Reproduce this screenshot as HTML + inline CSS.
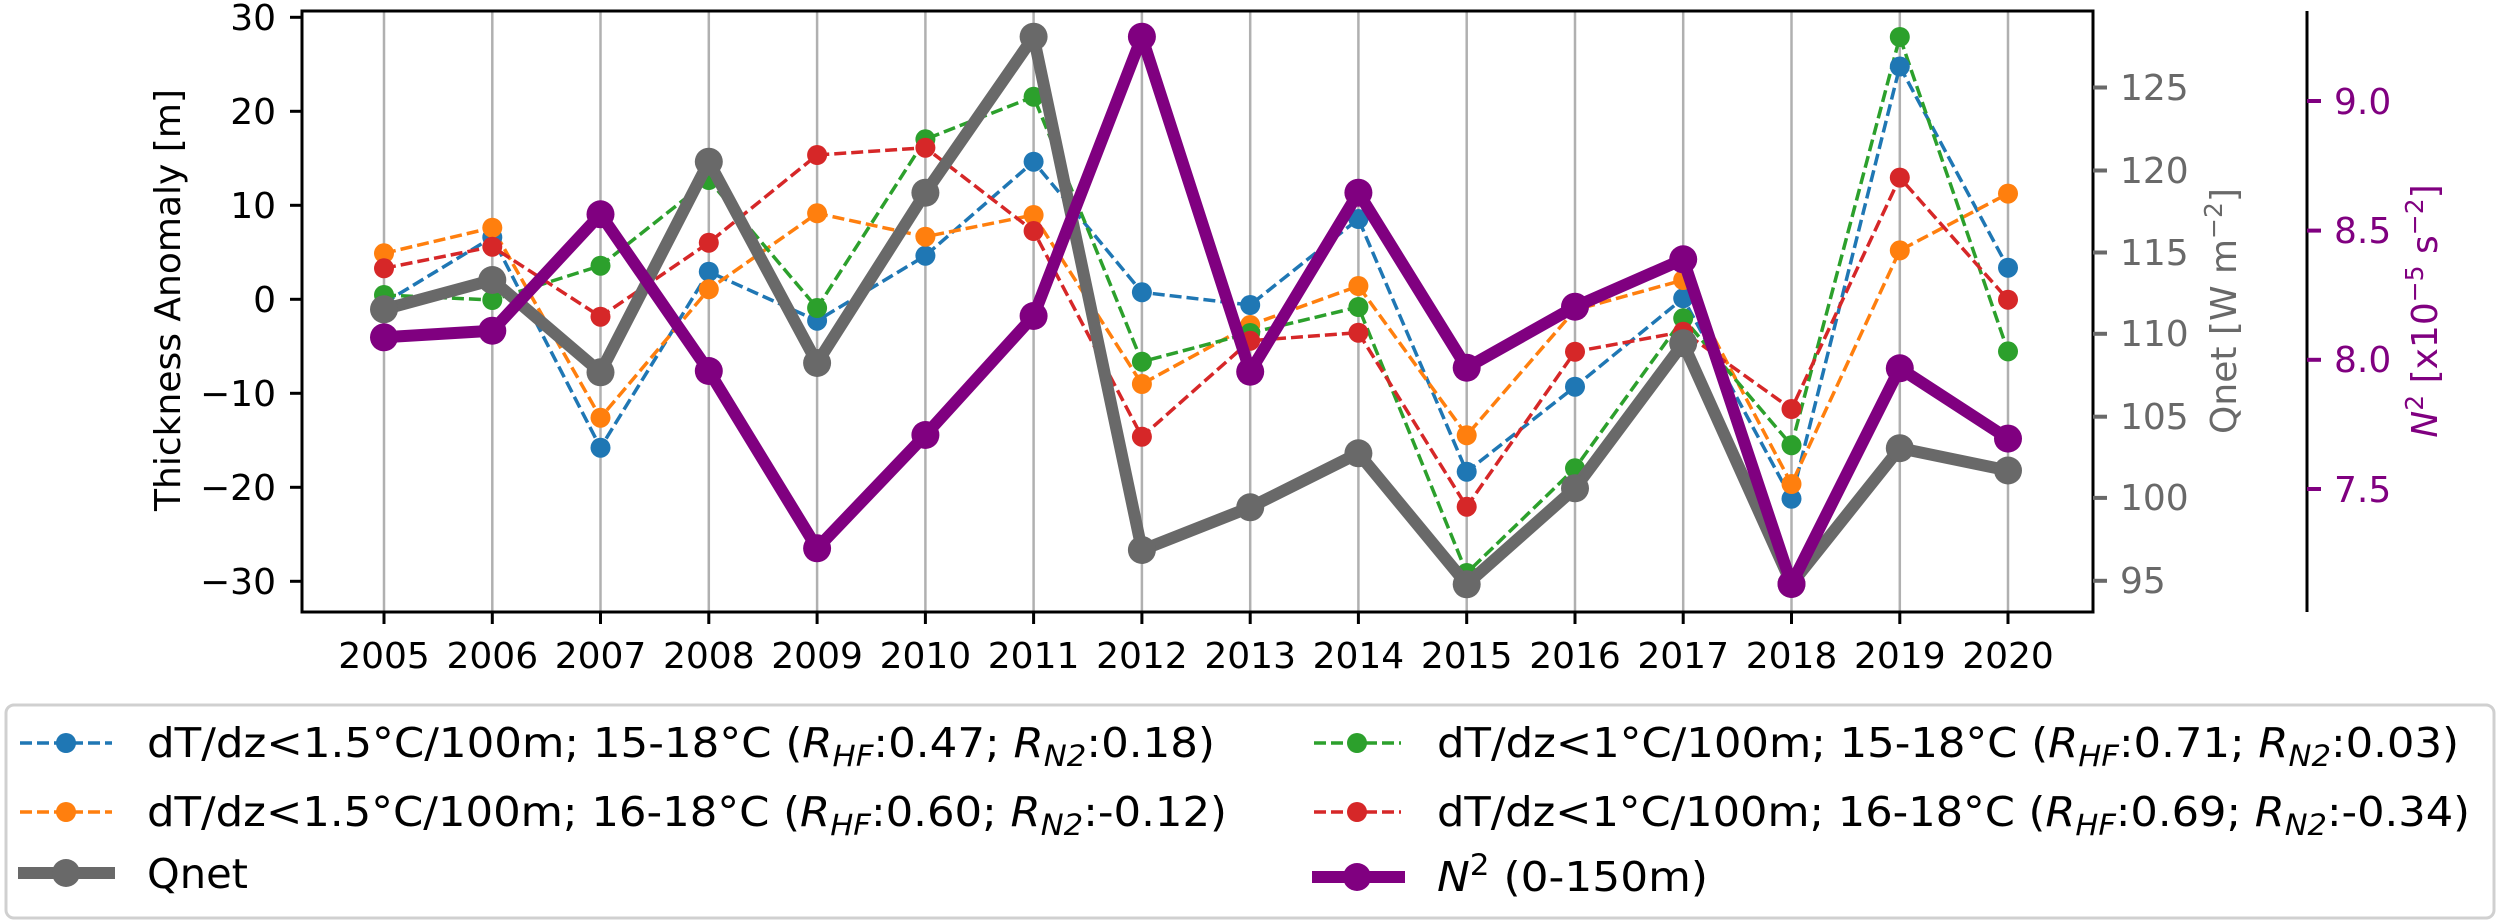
<!DOCTYPE html>
<html><head><meta charset="utf-8"><style>html,body{margin:0;padding:0;background:#fff}svg{display:block}</style></head>
<body>
<svg width="2500" height="924" viewBox="0 0 2500 924" xmlns="http://www.w3.org/2000/svg" font-family="DejaVu Sans, Liberation Sans, sans-serif">
<rect width="2500" height="924" fill="#fff"/>
<g stroke="#b0b0b0" stroke-width="2.5">
<line x1="384" y1="11" x2="384" y2="612"/><line x1="492.3" y1="11" x2="492.3" y2="612"/><line x1="600.5" y1="11" x2="600.5" y2="612"/><line x1="708.8" y1="11" x2="708.8" y2="612"/><line x1="817.1" y1="11" x2="817.1" y2="612"/><line x1="925.4" y1="11" x2="925.4" y2="612"/><line x1="1033.6" y1="11" x2="1033.6" y2="612"/><line x1="1141.9" y1="11" x2="1141.9" y2="612"/><line x1="1250.2" y1="11" x2="1250.2" y2="612"/><line x1="1358.4" y1="11" x2="1358.4" y2="612"/><line x1="1466.7" y1="11" x2="1466.7" y2="612"/><line x1="1575" y1="11" x2="1575" y2="612"/><line x1="1683.2" y1="11" x2="1683.2" y2="612"/><line x1="1791.5" y1="11" x2="1791.5" y2="612"/><line x1="1899.8" y1="11" x2="1899.8" y2="612"/><line x1="2008" y1="11" x2="2008" y2="612"/>
</g>
<g fill="none" stroke-width="3.5" stroke-dasharray="12,5">
<polyline stroke="#1f77b4" points="384,303 492.3,237.3 600.5,447.7 708.8,271.7 817.1,320.7 925.4,255.7 1033.6,161.7 1141.9,292.3 1250.2,305 1358.4,219 1466.7,471.7 1575,386.7 1683.2,298.3 1791.5,498.7 1899.8,66.5 2008,267.7"/>
<polyline stroke="#ff7f0e" points="384,253.3 492.3,227.7 600.5,417.7 708.8,289.3 817.1,213.3 925.4,236.7 1033.6,215 1141.9,384 1250.2,325 1358.4,286 1466.7,435.3 1575,310 1683.2,280 1791.5,484 1899.8,250.4 2008,193.6"/>
<polyline stroke="#2ca02c" points="384,295 492.3,300 600.5,265.7 708.8,180 817.1,308 925.4,139.3 1033.6,96.7 1141.9,361.7 1250.2,333 1358.4,307 1466.7,573 1575,468.3 1683.2,318.3 1791.5,445.3 1899.8,37 2008,351.4"/>
<polyline stroke="#d62728" points="384,268.3 492.3,246.7 600.5,316.7 708.8,242.7 817.1,155 925.4,147.7 1033.6,231 1141.9,436.7 1250.2,340.7 1358.4,332.7 1466.7,506.7 1575,351.7 1683.2,331.7 1791.5,409 1899.8,177.6 2008,299.7"/>
</g>
<g fill="#1f77b4"><circle cx="384" cy="303" r="10"/><circle cx="492.3" cy="237.3" r="10"/><circle cx="600.5" cy="447.7" r="10"/><circle cx="708.8" cy="271.7" r="10"/><circle cx="817.1" cy="320.7" r="10"/><circle cx="925.4" cy="255.7" r="10"/><circle cx="1033.6" cy="161.7" r="10"/><circle cx="1141.9" cy="292.3" r="10"/><circle cx="1250.2" cy="305" r="10"/><circle cx="1358.4" cy="219" r="10"/><circle cx="1466.7" cy="471.7" r="10"/><circle cx="1575" cy="386.7" r="10"/><circle cx="1683.2" cy="298.3" r="10"/><circle cx="1791.5" cy="498.7" r="10"/><circle cx="1899.8" cy="66.5" r="10"/><circle cx="2008" cy="267.7" r="10"/></g>
<g fill="#ff7f0e"><circle cx="384" cy="253.3" r="10"/><circle cx="492.3" cy="227.7" r="10"/><circle cx="600.5" cy="417.7" r="10"/><circle cx="708.8" cy="289.3" r="10"/><circle cx="817.1" cy="213.3" r="10"/><circle cx="925.4" cy="236.7" r="10"/><circle cx="1033.6" cy="215" r="10"/><circle cx="1141.9" cy="384" r="10"/><circle cx="1250.2" cy="325" r="10"/><circle cx="1358.4" cy="286" r="10"/><circle cx="1466.7" cy="435.3" r="10"/><circle cx="1575" cy="310" r="10"/><circle cx="1683.2" cy="280" r="10"/><circle cx="1791.5" cy="484" r="10"/><circle cx="1899.8" cy="250.4" r="10"/><circle cx="2008" cy="193.6" r="10"/></g>
<g fill="#2ca02c"><circle cx="384" cy="295" r="10"/><circle cx="492.3" cy="300" r="10"/><circle cx="600.5" cy="265.7" r="10"/><circle cx="708.8" cy="180" r="10"/><circle cx="817.1" cy="308" r="10"/><circle cx="925.4" cy="139.3" r="10"/><circle cx="1033.6" cy="96.7" r="10"/><circle cx="1141.9" cy="361.7" r="10"/><circle cx="1250.2" cy="333" r="10"/><circle cx="1358.4" cy="307" r="10"/><circle cx="1466.7" cy="573" r="10"/><circle cx="1575" cy="468.3" r="10"/><circle cx="1683.2" cy="318.3" r="10"/><circle cx="1791.5" cy="445.3" r="10"/><circle cx="1899.8" cy="37" r="10"/><circle cx="2008" cy="351.4" r="10"/></g>
<g fill="#d62728"><circle cx="384" cy="268.3" r="10"/><circle cx="492.3" cy="246.7" r="10"/><circle cx="600.5" cy="316.7" r="10"/><circle cx="708.8" cy="242.7" r="10"/><circle cx="817.1" cy="155" r="10"/><circle cx="925.4" cy="147.7" r="10"/><circle cx="1033.6" cy="231" r="10"/><circle cx="1141.9" cy="436.7" r="10"/><circle cx="1250.2" cy="340.7" r="10"/><circle cx="1358.4" cy="332.7" r="10"/><circle cx="1466.7" cy="506.7" r="10"/><circle cx="1575" cy="351.7" r="10"/><circle cx="1683.2" cy="331.7" r="10"/><circle cx="1791.5" cy="409" r="10"/><circle cx="1899.8" cy="177.6" r="10"/><circle cx="2008" cy="299.7" r="10"/></g>
<polyline fill="none" stroke="#696969" stroke-width="12" stroke-linejoin="round" points="384,309.3 492.3,280 600.5,372.3 708.8,161.7 817.1,363 925.4,192.7 1033.6,36.7 1141.9,550 1250.2,507.3 1358.4,453.3 1466.7,584.3 1575,488.3 1683.2,343.3 1791.5,584 1899.8,448.2 2008,470.5"/>
<g fill="#696969"><circle cx="384" cy="309.3" r="14"/><circle cx="492.3" cy="280" r="14"/><circle cx="600.5" cy="372.3" r="14"/><circle cx="708.8" cy="161.7" r="14"/><circle cx="817.1" cy="363" r="14"/><circle cx="925.4" cy="192.7" r="14"/><circle cx="1033.6" cy="36.7" r="14"/><circle cx="1141.9" cy="550" r="14"/><circle cx="1250.2" cy="507.3" r="14"/><circle cx="1358.4" cy="453.3" r="14"/><circle cx="1466.7" cy="584.3" r="14"/><circle cx="1575" cy="488.3" r="14"/><circle cx="1683.2" cy="343.3" r="14"/><circle cx="1791.5" cy="584" r="14"/><circle cx="1899.8" cy="448.2" r="14"/><circle cx="2008" cy="470.5" r="14"/></g>
<polyline fill="none" stroke="#800080" stroke-width="12" stroke-linejoin="round" points="384,337.3 492.3,330.7 600.5,214.3 708.8,371 817.1,548.3 925.4,435 1033.6,316 1141.9,36.7 1250.2,371.7 1358.4,192.7 1466.7,367.7 1575,306.7 1683.2,259.3 1791.5,584 1899.8,368.3 2008,438.6"/>
<g fill="#800080"><circle cx="384" cy="337.3" r="14"/><circle cx="492.3" cy="330.7" r="14"/><circle cx="600.5" cy="214.3" r="14"/><circle cx="708.8" cy="371" r="14"/><circle cx="817.1" cy="548.3" r="14"/><circle cx="925.4" cy="435" r="14"/><circle cx="1033.6" cy="316" r="14"/><circle cx="1141.9" cy="36.7" r="14"/><circle cx="1250.2" cy="371.7" r="14"/><circle cx="1358.4" cy="192.7" r="14"/><circle cx="1466.7" cy="367.7" r="14"/><circle cx="1575" cy="306.7" r="14"/><circle cx="1683.2" cy="259.3" r="14"/><circle cx="1791.5" cy="584" r="14"/><circle cx="1899.8" cy="368.3" r="14"/><circle cx="2008" cy="438.6" r="14"/></g>
<rect x="302" y="11" width="1791" height="601" fill="none" stroke="#000" stroke-width="3"/>
<line x1="2307" y1="11" x2="2307" y2="612" stroke="#000" stroke-width="3"/>
<g stroke="#000" stroke-width="3">
<line x1="290" y1="17.3" x2="302" y2="17.3"/><line x1="290" y1="111.3" x2="302" y2="111.3"/><line x1="290" y1="205.3" x2="302" y2="205.3"/><line x1="290" y1="299.3" x2="302" y2="299.3"/><line x1="290" y1="393.3" x2="302" y2="393.3"/><line x1="290" y1="487.3" x2="302" y2="487.3"/><line x1="290" y1="581.3" x2="302" y2="581.3"/>
<line x1="384" y1="612" x2="384" y2="624"/><line x1="492.3" y1="612" x2="492.3" y2="624"/><line x1="600.5" y1="612" x2="600.5" y2="624"/><line x1="708.8" y1="612" x2="708.8" y2="624"/><line x1="817.1" y1="612" x2="817.1" y2="624"/><line x1="925.4" y1="612" x2="925.4" y2="624"/><line x1="1033.6" y1="612" x2="1033.6" y2="624"/><line x1="1141.9" y1="612" x2="1141.9" y2="624"/><line x1="1250.2" y1="612" x2="1250.2" y2="624"/><line x1="1358.4" y1="612" x2="1358.4" y2="624"/><line x1="1466.7" y1="612" x2="1466.7" y2="624"/><line x1="1575" y1="612" x2="1575" y2="624"/><line x1="1683.2" y1="612" x2="1683.2" y2="624"/><line x1="1791.5" y1="612" x2="1791.5" y2="624"/><line x1="1899.8" y1="612" x2="1899.8" y2="624"/><line x1="2008" y1="612" x2="2008" y2="624"/>
</g>
<g stroke="#696969" stroke-width="4"><line x1="2093" y1="87.5" x2="2107" y2="87.5"/><line x1="2093" y1="170.5" x2="2107" y2="170.5"/><line x1="2093" y1="252.5" x2="2107" y2="252.5"/><line x1="2093" y1="333.8" x2="2107" y2="333.8"/><line x1="2093" y1="416.7" x2="2107" y2="416.7"/><line x1="2093" y1="497.9" x2="2107" y2="497.9"/><line x1="2093" y1="580.8" x2="2107" y2="580.8"/></g>
<g stroke="#800080" stroke-width="4"><line x1="2307" y1="101" x2="2321" y2="101"/><line x1="2307" y1="230.6" x2="2321" y2="230.6"/><line x1="2307" y1="359.8" x2="2321" y2="359.8"/><line x1="2307" y1="489" x2="2321" y2="489"/></g>
<g font-size="36" fill="#000" text-anchor="end">
<text x="276" y="30">30</text><text x="276" y="124">20</text><text x="276" y="218">10</text><text x="276" y="312">0</text><text x="276" y="406">−10</text><text x="276" y="500">−20</text><text x="276" y="594">−30</text>
</g>
<g font-size="36" fill="#000" text-anchor="middle">
<text x="384" y="668">2005</text><text x="492.3" y="668">2006</text><text x="600.5" y="668">2007</text><text x="708.8" y="668">2008</text><text x="817.1" y="668">2009</text><text x="925.4" y="668">2010</text><text x="1033.6" y="668">2011</text><text x="1141.9" y="668">2012</text><text x="1250.2" y="668">2013</text><text x="1358.4" y="668">2014</text><text x="1466.7" y="668">2015</text><text x="1575" y="668">2016</text><text x="1683.2" y="668">2017</text><text x="1791.5" y="668">2018</text><text x="1899.8" y="668">2019</text><text x="2008" y="668">2020</text>
</g>
<text transform="translate(180,300) rotate(-90)" font-size="36" text-anchor="middle">Thickness Anomaly [m]</text>
<g font-size="36" fill="#696969"><text x="2120" y="100">125</text><text x="2120" y="183">120</text><text x="2120" y="265">115</text><text x="2120" y="346">110</text><text x="2120" y="429">105</text><text x="2120" y="510">100</text><text x="2120" y="593">95</text></g>
<text transform="translate(2236,311) rotate(-90)" font-size="36" fill="#696969" text-anchor="middle">Qnet [W m<tspan dy="-14" font-size="25">−2</tspan><tspan dy="14">]</tspan></text>
<g font-size="36" fill="#800080"><text x="2334" y="114">9.0</text><text x="2334" y="243">8.5</text><text x="2334" y="372">8.0</text><text x="2334" y="502">7.5</text></g>
<text transform="translate(2437,311) rotate(-90)" font-size="36" fill="#800080" text-anchor="middle"><tspan font-style="italic">N</tspan><tspan dy="-14" font-size="25">2</tspan><tspan dy="14"> [x10</tspan><tspan dy="-14" font-size="25">−5</tspan><tspan dy="14"> s</tspan><tspan dy="-14" font-size="25">−2</tspan><tspan dy="14">]</tspan></text>
<rect x="6" y="705" width="2488" height="213" rx="8" fill="#fff" stroke="#d0d0d0" stroke-width="3"/>
<g stroke-width="3.5" stroke-dasharray="12,5">
<line x1="20" y1="743" x2="112" y2="743" stroke="#1f77b4"/><line x1="20" y1="812" x2="112" y2="812" stroke="#ff7f0e"/>
<line x1="1314" y1="743" x2="1401" y2="743" stroke="#2ca02c"/><line x1="1314" y1="812" x2="1401" y2="812" stroke="#d62728"/>
</g>
<circle cx="66" cy="743" r="10" fill="#1f77b4"/><circle cx="66" cy="812" r="10" fill="#ff7f0e"/>
<circle cx="1357" cy="743" r="10" fill="#2ca02c"/><circle cx="1357" cy="812" r="10" fill="#d62728"/>
<line x1="18" y1="873" x2="115" y2="873" stroke="#696969" stroke-width="12"/><circle cx="66" cy="873" r="14" fill="#696969"/>
<line x1="1312" y1="877" x2="1405" y2="877" stroke="#800080" stroke-width="12"/><circle cx="1357" cy="877" r="14" fill="#800080"/>
<g font-size="41" fill="#000">
<text x="147" y="757" textLength="1068" lengthAdjust="spacingAndGlyphs">dT/dz&lt;1.5°C/100m; 15-18°C (<tspan font-style="italic">R</tspan><tspan font-style="italic" font-size="29" dy="9">HF</tspan><tspan dy="-9">:0.47; </tspan><tspan font-style="italic">R</tspan><tspan font-style="italic" font-size="29" dy="9">N2</tspan><tspan dy="-9">:0.18)</tspan></text>
<text x="147" y="826" textLength="1080" lengthAdjust="spacingAndGlyphs">dT/dz&lt;1.5°C/100m; 16-18°C (<tspan font-style="italic">R</tspan><tspan font-style="italic" font-size="29" dy="9">HF</tspan><tspan dy="-9">:0.60; </tspan><tspan font-style="italic">R</tspan><tspan font-style="italic" font-size="29" dy="9">N2</tspan><tspan dy="-9">:-0.12)</tspan></text>
<text x="147" y="888" textLength="101" lengthAdjust="spacingAndGlyphs">Qnet</text>
<text x="1437" y="757" textLength="1022" lengthAdjust="spacingAndGlyphs">dT/dz&lt;1°C/100m; 15-18°C (<tspan font-style="italic">R</tspan><tspan font-style="italic" font-size="29" dy="9">HF</tspan><tspan dy="-9">:0.71; </tspan><tspan font-style="italic">R</tspan><tspan font-style="italic" font-size="29" dy="9">N2</tspan><tspan dy="-9">:0.03)</tspan></text>
<text x="1437" y="826" textLength="1033" lengthAdjust="spacingAndGlyphs">dT/dz&lt;1°C/100m; 16-18°C (<tspan font-style="italic">R</tspan><tspan font-style="italic" font-size="29" dy="9">HF</tspan><tspan dy="-9">:0.69; </tspan><tspan font-style="italic">R</tspan><tspan font-style="italic" font-size="29" dy="9">N2</tspan><tspan dy="-9">:-0.34)</tspan></text>
<text x="1437" y="891" textLength="271" lengthAdjust="spacingAndGlyphs"><tspan font-style="italic">N</tspan><tspan font-size="29" dy="-16">2</tspan><tspan dy="16"> (0-150m)</tspan></text>
</g>
</svg>
</body></html>
